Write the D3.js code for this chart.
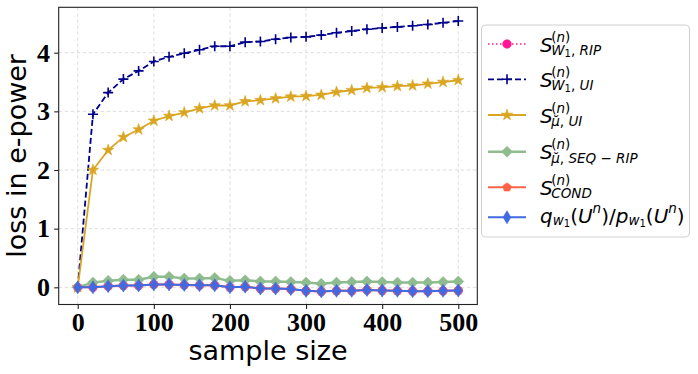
<!DOCTYPE html>
<html>
<head>
<meta charset="utf-8">
<script src="https://cdn.jsdelivr.net/npm/d3@7"></script>
<style>
  body { margin: 0; background: #fff; }
</style>
</head>
<body>
<div id="chart"></div>
<script>
// sample sizes on the x axis
const sampleSizes = [0, 20, 40, 60, 80, 100, 120, 140, 160, 180, 200, 220, 240,
  260, 280, 300, 320, 340, 360, 380, 400, 420, 440, 460, 480, 500];

// loss in e-power per method
const w1Rip = [0, 0.0, 0.02, 0.03, 0.03, 0.05, 0.05, 0.04, 0.035, 0.035, 0.0, 0.01, -0.02,
  -0.02, -0.03, -0.06, -0.07, -0.06, -0.06, -0.045, -0.055, -0.06, -0.065, -0.065, -0.06, -0.055];
const w1UI = [0, 2.95, 3.32, 3.55, 3.69, 3.85, 3.93, 3.99, 4.05, 4.11, 4.11, 4.18, 4.19,
  4.23, 4.26, 4.27, 4.30, 4.34, 4.37, 4.40, 4.42, 4.44, 4.46, 4.48, 4.51, 4.54];
const muUI = [0, 2.0, 2.34, 2.56, 2.69, 2.84, 2.92, 2.98, 3.05, 3.10, 3.10, 3.17, 3.19,
  3.22, 3.25, 3.26, 3.28, 3.33, 3.36, 3.40, 3.41, 3.43, 3.44, 3.47, 3.50, 3.53];
const muSeqRip = [0, 0.08, 0.11, 0.13, 0.13, 0.18, 0.18, 0.15, 0.15, 0.16, 0.11, 0.12, 0.10,
  0.10, 0.09, 0.08, 0.06, 0.08, 0.09, 0.10, 0.09, 0.08, 0.08, 0.08, 0.09, 0.10];
const cond = [0, 0.0, 0.02, 0.03, 0.03, 0.05, 0.05, 0.04, 0.035, 0.035, 0.0, 0.01, -0.02,
  -0.02, -0.03, -0.06, -0.07, -0.06, -0.06, -0.045, -0.055, -0.06, -0.065, -0.065, -0.06, -0.055];
const ratio = [0, 0.0, 0.02, 0.03, 0.03, 0.05, 0.05, 0.04, 0.035, 0.035, 0.0, 0.01, -0.02,
  -0.02, -0.03, -0.06, -0.07, -0.06, -0.06, -0.045, -0.055, -0.06, -0.065, -0.065, -0.06, -0.055];

const xTicks = [0, 100, 200, 300, 400, 500];
const yTicks = [0, 1, 2, 3, 4];

// legend labels as math pieces: l = m (main), sup, sub, ss (sub of sub); keep = don't advance x
const labelRip = [{t: 'S', l: 'm'}, {t: '(n)', l: 'sup', keep: true}, {t: 'W', l: 'sub'}, {t: '1', l: 'ss'}, {t: ', RIP', l: 'sub'}];
const labelW1UI = [{t: 'S', l: 'm'}, {t: '(n)', l: 'sup', keep: true}, {t: 'W', l: 'sub'}, {t: '1', l: 'ss'}, {t: ', UI', l: 'sub'}];
const labelMuUI = [{t: 'S', l: 'm'}, {t: '(n)', l: 'sup', keep: true}, {t: 'μ\u0306, UI', l: 'sub'}];
const labelMuSeq = [{t: 'S', l: 'm'}, {t: '(n)', l: 'sup', keep: true}, {t: 'μ\u0306, SEQ \u2212 RIP', l: 'sub'}];
const labelCond = [{t: 'S', l: 'm'}, {t: '(n)', l: 'sup', keep: true}, {t: 'COND', l: 'sub'}];
const labelRatio = [{t: 'q', l: 'm'}, {t: 'w', l: 'sub2'}, {t: '1', l: 'ss2'}, {t: '(U', l: 'm'}, {t: 'n', l: 'sup2'},
  {t: ')/p', l: 'm'}, {t: 'w', l: 'sub2'}, {t: '1', l: 'ss2'}, {t: '(U', l: 'm'}, {t: 'n', l: 'sup2'}, {t: ')', l: 'm'}];

const series = [
  {values: w1Rip, label: labelRip, color: '#ff1493', dash: '1.5,2.5', width: 1.5, marker: 'circle'},
  {values: w1UI, label: labelW1UI, color: '#00008b', dash: '6,3', width: 1.8, marker: 'plus'},
  {values: muUI, label: labelMuUI, color: '#daa520', dash: null, width: 1.8, marker: 'star'},
  {values: muSeqRip, label: labelMuSeq, color: '#8fbc8f', dash: null, width: 2.5, marker: 'diamond'},
  {values: cond, label: labelCond, color: '#ff6347', dash: null, width: 2, marker: 'pentagon'},
  {values: ratio, label: labelRatio, color: '#4169e1', dash: null, width: 2, marker: 'thindiamond'},
];

const W = 698, H = 374;
const plot = {left: 58.7, top: 7.3, right: 477.3, bottom: 304.5};
const tickFont = '"Liberation Serif", "Times New Roman", serif';
const sansFont = '"DejaVu Sans", sans-serif';

const svg = d3.select('#chart').append('svg')
  .attr('width', W)
  .attr('height', H);

const x = d3.scaleLinear().domain([-25, 525]).range([plot.left, plot.right]);
const y = d3.scaleLinear().domain([-0.293, 4.774]).range([plot.bottom, plot.top]);

// grid
const grid = svg.append('g')
  .attr('stroke', '#d9d9d9')
  .attr('stroke-width', 0.9)
  .attr('stroke-dasharray', '3.5,2.5');
grid.selectAll('.gx').data(xTicks).enter().append('line')
  .attr('x1', d => x(d)).attr('x2', d => x(d))
  .attr('y1', plot.top).attr('y2', plot.bottom);
grid.selectAll('.gy').data(yTicks).enter().append('line')
  .attr('y1', d => y(d)).attr('y2', d => y(d))
  .attr('x1', plot.left).attr('x2', plot.right);

// axes
const xAxis = svg.append('g')
  .attr('transform', `translate(0, ${plot.bottom})`)
  .call(d3.axisBottom(x).tickValues(xTicks).tickFormat(d3.format('d')).tickSize(4.5).tickPadding(3.5));
const yAxis = svg.append('g')
  .attr('transform', `translate(${plot.left}, 0)`)
  .call(d3.axisLeft(y).tickValues(yTicks).tickFormat(d3.format('d')).tickSize(4.5).tickPadding(4.2));
[xAxis, yAxis].forEach(a => {
  a.select('.domain').remove();
  a.selectAll('.tick line').attr('stroke', '#222').attr('stroke-width', 1.1);
  a.selectAll('.tick text')
    .attr('fill', '#000')
    .style('font-family', tickFont)
    .style('font-weight', 'bold')
    .style('font-size', '26px');
});

// markers
function markerPath(type, s) {
  if (type === 'circle') return d3.symbol(d3.symbolCircle, s * s * Math.PI)();
  if (type === 'star') return d3.symbol(d3.symbolStar, s * s * 1.6)();
  if (type === 'plus') return `M${-s},0H${s}M0,${-s}V${s}`;
  if (type === 'diamond') return `M0,${-s}L${s},0L0,${s}L${-s},0Z`;
  if (type === 'thindiamond') return `M0,${-s}L${s * 0.6},0L0,${s}L${-s * 0.6},0Z`;
  if (type === 'pentagon') {
    const pts = d3.range(5).map(i => {
      const a = -Math.PI / 2 + i * 2 * Math.PI / 5;
      return [s * Math.cos(a), s * Math.sin(a)];
    });
    return 'M' + pts.map(p => p.join(',')).join('L') + 'Z';
  }
}
const markerSize = {circle: 4.3, star: 5, plus: 5, diamond: 5.5, thindiamond: 6.5, pentagon: 4.6};

function drawMarker(g, type, color, cx, cy) {
  const p = g.append('path')
    .attr('d', markerPath(type, markerSize[type]))
    .attr('transform', `translate(${cx},${cy})`);
  if (type === 'plus') p.attr('fill', 'none').attr('stroke', color).attr('stroke-width', 1.6);
  else p.attr('fill', color).attr('stroke', color).attr('stroke-width', 0.6);
}

const line = d3.line()
  .x((d, i) => x(sampleSizes[i]))
  .y(d => y(d));

const lines = svg.append('g');
series.forEach(s => {
  const g = lines.append('g');
  g.append('path')
    .datum(s.values)
    .attr('d', line)
    .attr('fill', 'none')
    .attr('stroke', s.color)
    .attr('stroke-width', s.width)
    .attr('stroke-dasharray', s.dash);
  s.values.forEach((v, i) => drawMarker(g, s.marker, s.color, x(sampleSizes[i]), y(v)));
});

// frame
svg.append('rect')
  .attr('x', plot.left).attr('y', plot.top)
  .attr('width', plot.right - plot.left).attr('height', plot.bottom - plot.top)
  .attr('fill', 'none')
  .attr('stroke', '#222')
  .attr('stroke-width', 1.1);

// axis labels
svg.append('text')
  .attr('x', (plot.left + plot.right) / 2)
  .attr('y', 360)
  .attr('text-anchor', 'middle')
  .style('font-family', sansFont)
  .style('font-size', '27px')
  .text('sample size');
svg.append('text')
  .attr('transform', `translate(25.5, ${(plot.top + plot.bottom) / 2}) rotate(-90)`)
  .attr('text-anchor', 'middle')
  .style('font-family', sansFont)
  .style('font-size', '27px')
  .text('loss in e-power');

// legend
const legend = svg.append('g');
legend.append('rect')
  .attr('x', 481.5).attr('y', 25)
  .attr('width', 208).attr('height', 212)
  .attr('rx', 4)
  .attr('fill', '#fff')
  .attr('stroke', '#d0d0d0')
  .attr('stroke-width', 1);

const rowY = [44, 79.3, 115, 151.7, 187.3, 217.3];
// baseline offsets and sizes for each math level
const levels = {
  m: {size: 20, dy: 7.5},
  sup: {size: 13.5, dy: -2.5},
  sub: {size: 13.5, dy: 11},
  ss: {size: 10, dy: 13},
  sub2: {size: 13.5, dy: 10},
  ss2: {size: 10, dy: 12},
  sup2: {size: 13.5, dy: -2},
};

function drawMath(g, x0, cy, pieces, shift) {
  let cx = x0;
  pieces.forEach(p => {
    const lv = levels[p.l];
    const t = g.append('text')
      .attr('x', cx)
      .attr('y', cy + lv.dy + shift)
      .style('font-family', sansFont)
      .style('font-size', lv.size + 'px');
    // letters in italic, digits and signs upright, like mathtext
    p.t.match(/.\u0306?/gu).forEach(ch => {
      t.append('tspan')
        .style('font-style', /[A-Za-zμ]/.test(ch) ? 'italic' : 'normal')
        .text(ch);
    });
    const w = t.node().getComputedTextLength();
    if (p.l === 'm') cx += w - (p.t === 'S' ? 1.5 : 0);
    else if (!p.keep) cx += w;
  });
}

series.forEach((s, i) => {
  const cy = rowY[i];
  const g = legend.append('g');
  g.append('line')
    .attr('x1', 488).attr('x2', 526)
    .attr('y1', cy).attr('y2', cy)
    .attr('stroke', s.color)
    .attr('stroke-width', s.width)
    .attr('stroke-dasharray', s.dash);
  drawMarker(g, s.marker, s.color, 507, cy);
  drawMath(g, 540, cy, s.label, i === 5 ? -2 : 0);
});
</script>
</body>
</html>
